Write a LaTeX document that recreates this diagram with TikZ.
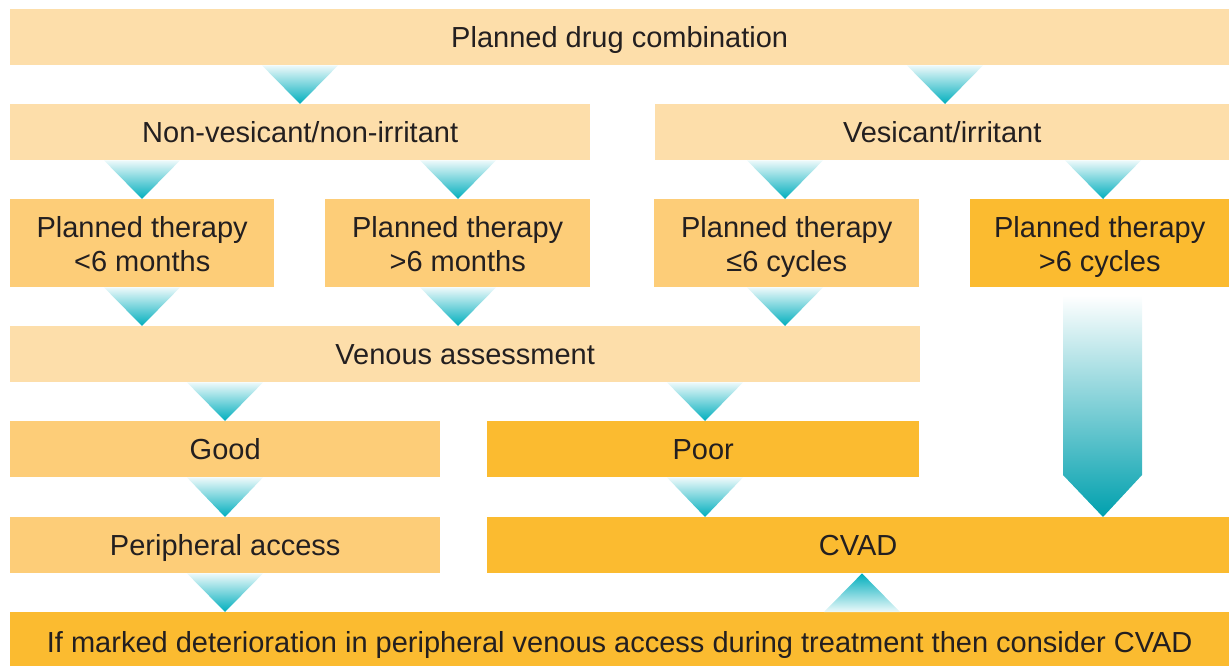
\documentclass[tikz,border=0pt]{standalone}
\usepackage{fontspec}
\setmainfont{Liberation Sans}
\usetikzlibrary{calc}
\definecolor{peachL}{RGB}{253,222,170}
\definecolor{peachM}{RGB}{253,205,120}
\definecolor{amber}{RGB}{251,187,48}
\definecolor{tealA}{RGB}{0,174,189}
\definecolor{ink}{RGB}{35,31,32}
\tikzset{
  box/.style={rectangle, inner sep=0pt, anchor=north west,
    text=ink, font=\fontsize{29}{34}\selectfont},
  oneline/.style={text height=20pt, text depth=0pt},
  lightbox/.style={box, fill=peachL},
  midbox/.style={box, fill=peachM},
  darkbox/.style={box, fill=amber},
  tri/.style={top color=tealA!7, bottom color=tealA},
  triup/.style={top color=tealA, bottom color=tealA!7},
}
% two centred lines, set slightly below the middle of their box
\newcommand\twolines[2]{\raisebox{-4pt}[\height][\depth]{%
  \begin{tabular}{@{}c@{}}#1\\#2\end{tabular}}}
% small downward triangle in column #1 from the bottom of #2 to the top of #3
\newcommand\tridown[3]{%
  \shade[tri] ($(#1 |- #2.south)+(-38,0)$) -- ($(#1 |- #2.south)+(38,0)$)
    -- (#1 |- #3.north) -- cycle;}
% small upward triangle in column #1 from the top of #2 to the bottom of #3
\newcommand\triup[3]{%
  \shade[triup] ($(#1 |- #2.north)+(-38,0)$) -- ($(#1 |- #2.north)+(38,0)$)
    -- (#1 |- #3.south) -- cycle;}
\begin{document}
\begin{tikzpicture}[x=1pt, y=-1pt]
\useasboundingbox (0,0) rectangle (1229,666);

% boxes
\node[lightbox, oneline, minimum width=1219pt, minimum height=56pt] (combo) at (10,9) {Planned drug combination};
\node[lightbox, oneline, minimum width=580pt, minimum height=56pt] (nonves) at (10,104) {Non-vesicant/non-irritant};
\node[lightbox, oneline, minimum width=574pt, minimum height=56pt] (ves) at (655,104) {Vesicant/irritant};
\node[midbox, minimum width=264pt, minimum height=88pt] (tA) at (10,199) {\twolines{Planned therapy}{<6 months}};
\node[midbox, minimum width=265pt, minimum height=88pt] (tB) at (325,199) {\twolines{Planned therapy}{>6 months}};
\node[midbox, minimum width=265pt, minimum height=88pt] (tC) at (654,199) {\twolines{Planned therapy}{≤6 cycles}};
\node[darkbox, minimum width=259pt, minimum height=88pt] (tD) at (970,199) {\twolines{Planned therapy}{>6 cycles}};
\node[lightbox, oneline, minimum width=910pt, minimum height=56pt] (venous) at (10,326) {Venous assessment};
\node[midbox, oneline, minimum width=430pt, minimum height=56pt] (good) at (10,421) {Good};
\node[darkbox, oneline, minimum width=432pt, minimum height=56pt] (poor) at (487,421) {Poor};
\node[midbox, oneline, minimum width=430pt, minimum height=56pt] (periph) at (10,517) {Peripheral access};
\node[darkbox, oneline, minimum width=742pt, minimum height=56pt] (cvad) at (487,517) {CVAD};
\node[darkbox, text height=26pt, text depth=0pt, minimum width=1219pt, minimum height=54pt] (note) at (10,612) {If marked deterioration in peripheral venous access during treatment then consider CVAD};

% arrow columns
\coordinate (cA) at (142,0);
\coordinate (cB) at (458,0);
\coordinate (cC) at (785,0);
\coordinate (cD) at (1103,0);
\coordinate (cE) at (300,0);
\coordinate (cF) at (945,0);
\coordinate (cG) at (225,0);
\coordinate (cH) at (705,0);
\coordinate (cI) at (862,0);

% connectors
\tridown{cE}{combo}{nonves}
\tridown{cF}{combo}{ves}
\tridown{cA}{nonves}{tA}
\tridown{cB}{nonves}{tB}
\tridown{cC}{ves}{tC}
\tridown{cD}{ves}{tD}
\tridown{cA}{tA}{venous}
\tridown{cB}{tB}{venous}
\tridown{cC}{tC}{venous}
\tridown{cG}{venous}{good}
\tridown{cH}{venous}{poor}
\tridown{cG}{good}{periph}
\tridown{cH}{poor}{cvad}
\tridown{cG}{periph}{note}
\triup{cI}{note}{cvad}

% long arrow from >6 cycles down to CVAD
\shade[top color=white, bottom color=tealA!92!black]
  ($(cD |- tD.south)+(-40,8)$) -- ($(cD |- tD.south)+(39,8)$)
  -- ($(cD |- cvad.north)+(39,-42)$) -- (cD |- cvad.north)
  -- ($(cD |- cvad.north)+(-40,-42)$) -- cycle;
\end{tikzpicture}
\end{document}
